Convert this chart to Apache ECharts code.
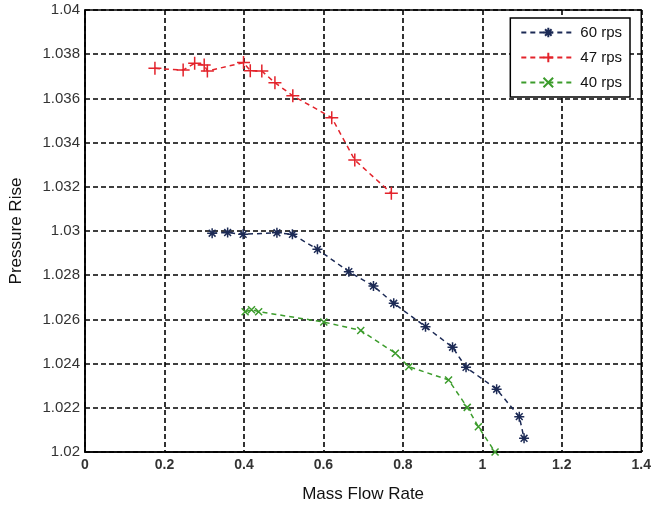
<!DOCTYPE html>
<html>
<head>
<meta charset="utf-8">
<script src="https://cdn.jsdelivr.net/npm/echarts@6/dist/echarts.min.js"></script>
<style>
	html, body { margin: 0; padding: 0; background: #fff; }
	#chart { width: 654px; height: 510px; }
</style>
</head>
<body>
<div id="chart"></div>
<script>
	/*---------- 数据 ----------*/
	var flow60 = [0.32, 0.359, 0.398, 0.483, 0.522, 0.585, 0.664, 0.726, 0.777, 0.857, 0.925, 0.959, 1.036, 1.093, 1.105];
	var rise60 = [1.02990, 1.02993, 1.02985, 1.02992, 1.02985, 1.02917, 1.02816, 1.02751, 1.02673, 1.02567, 1.02474, 1.02383, 1.02284, 1.02160, 1.02062];

	var flow47 = [0.176, 0.247, 0.276, 0.300, 0.308, 0.399, 0.416, 0.445, 0.478, 0.523, 0.621, 0.679, 0.771];
	var rise47 = [1.03736, 1.03728, 1.03759, 1.03751, 1.03724, 1.03762, 1.03725, 1.03724, 1.03671, 1.03612, 1.03513, 1.03321, 1.03171];

	var flow40 = [0.403, 0.419, 0.437, 0.601, 0.694, 0.781, 0.815, 0.915, 0.962, 0.990, 1.032];
	var rise40 = [1.02635, 1.02644, 1.02635, 1.02588, 1.02550, 1.02447, 1.02386, 1.02326, 1.02202, 1.02114, 1.02000];

	var names = ['60 rps', '47 rps', '40 rps'];
	var colors = ['#1c2a55', '#e3232b', '#3c9c2c'];
	/*--------------------------*/

	function pairs(xs, ys) {
		var out = [];
		for (var i = 0; i < xs.length; i++) {
			out.push([xs[i], ys[i]]);
		}
		return out;
	}

	var plusPath = 'path://M0,5L10,5M5,0L5,10';
	var crossPath = 'path://M0,0L10,10M10,0L0,10';
	var starPath = 'path://M0,5L10,5M5,0L5,10M1.6,1.6L8.4,8.4M8.4,1.6L1.6,8.4';

	function makeSeries(idx, data, symbol, size) {
		return {
			name: names[idx],
			type: 'line',
			data: data,
			symbol: symbol,
			symbolSize: size,
			lineStyle: {
				color: colors[idx],
				width: 1.5,
				type: [5, 4]
			},
			itemStyle: {
				color: 'rgba(0,0,0,0)',
				borderColor: colors[idx],
				borderWidth: 1.5
			},
			emphasis: { disabled: true },
			animation: false
		};
	}

	var gridLine = {
		show: true,
		lineStyle: { color: '#000', width: 1.6, type: [5, 3] }
	};
	var font = 'Liberation Sans, Arial, sans-serif';

	var myChart = echarts.init(document.getElementById('chart'));
	myChart.setOption({
		animation: false,
		grid: {
			left: 83,
			top: 10,
			right: 12,
			bottom: 58,
			show: true,
			borderColor: '#000',
			borderWidth: 1.5
		},
		legend: {
			right: 24,
			top: 18,
			orient: 'vertical',
			itemWidth: 54,
			itemHeight: 12,
			itemGap: 10,
			padding: [7, 8, 7, 10],
			backgroundColor: '#fff',
			borderColor: '#000',
			borderWidth: 1.5,
			borderRadius: 0,
			textStyle: { fontFamily: font, fontSize: 15, color: '#111' },
			data: names
		},
		xAxis: {
			type: 'value',
			min: 0,
			max: 1.4,
			interval: 0.2,
			name: 'Mass Flow Rate',
			nameLocation: 'middle',
			nameGap: 34,
			nameTextStyle: { fontFamily: font, fontSize: 17, color: '#111' },
			axisLine: { show: true, onZero: false, lineStyle: { color: '#000', width: 1.5 } },
			axisTick: { show: false },
			axisLabel: { fontFamily: font, fontSize: 14, fontWeight: 'bold', color: '#333', margin: 6 },
			splitLine: gridLine
		},
		yAxis: {
			type: 'value',
			min: 1.02,
			max: 1.04,
			interval: 0.002,
			name: 'Pressure Rise',
			nameLocation: 'middle',
			nameGap: 60,
			nameTextStyle: { fontFamily: font, fontSize: 17, color: '#111' },
			axisLine: { show: true, lineStyle: { color: '#000', width: 1.5 } },
			axisTick: { show: false },
			axisLabel: {
				fontFamily: font, fontSize: 15, color: '#333', margin: 5,
				formatter: function(v) { return String(parseFloat(v.toFixed(3))); }
			},
			splitLine: gridLine
		},
		series: [
			makeSeries(0, pairs(flow60, rise60), starPath, 10),
			makeSeries(1, pairs(flow47, rise47), plusPath, 13),
			makeSeries(2, pairs(flow40, rise40), crossPath, 7)
		]
	});
</script>
</body>
</html>
